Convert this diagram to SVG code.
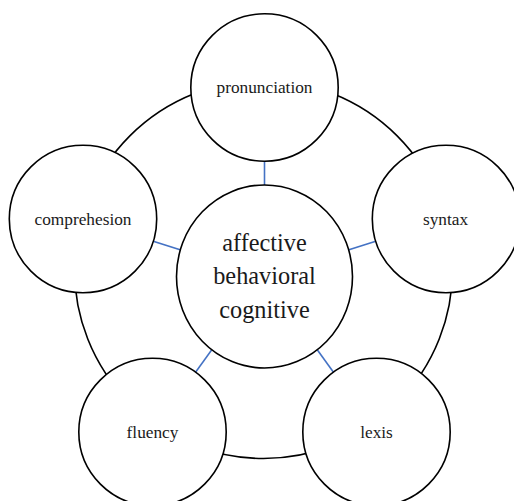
<svg xmlns="http://www.w3.org/2000/svg" width="514" height="501" viewBox="0 0 514 501">
  <defs>
    <style>
      .ring { fill: none; stroke: #000; stroke-width: 1.6; }
      .spoke { stroke: #4472C4; stroke-width: 1.6; fill: none; }
      .node { fill: #fff; stroke: #000; stroke-width: 1.6; }
      .label { font-family: "Liberation Serif", "Times New Roman", serif; font-size: 17.3px; fill: #1a1a1a; text-anchor: middle; }
      .core { font-family: "Liberation Serif", "Times New Roman", serif; font-size: 24.3px; fill: #1a1a1a; text-anchor: middle; }
    </style>
  </defs>
  <rect width="514" height="501" fill="#fff"/>

  <!-- connectors: outer ring and hub spokes -->
  <g id="connectors">
    <circle class="ring" cx="263.5" cy="269.5" r="189"/>
    <line class="spoke" x1="264.5" y1="276.5" x2="264.5" y2="87.5"/>
    <line class="spoke" x1="264.5" y1="276.5" x2="83" y2="219"/>
    <line class="spoke" x1="264.5" y1="276.5" x2="446" y2="219"/>
    <line class="spoke" x1="264.5" y1="276.5" x2="152.5" y2="432"/>
    <line class="spoke" x1="264.5" y1="276.5" x2="376.5" y2="432"/>
  </g>

  <g id="node-center">
    <ellipse class="node" cx="264.5" cy="276.5" rx="88" ry="91.5"/>
    <text class="core" x="264.5" y="250.5">affective</text>
    <text class="core" x="264.5" y="284">behavioral</text>
    <text class="core" x="264.5" y="317.5">cognitive</text>
  </g>

  <g id="node-pronunciation">
    <circle class="node" cx="264.5" cy="87.5" r="73.7"/>
    <text class="label" x="264.5" y="93">pronunciation</text>
  </g>

  <g id="node-comprehension">
    <circle class="node" cx="83" cy="219" r="73.7"/>
    <text class="label" x="83" y="224.5">comprehesion</text>
  </g>

  <g id="node-syntax">
    <circle class="node" cx="446" cy="219" r="73.7"/>
    <text class="label" x="445.5" y="224.5">syntax</text>
  </g>

  <g id="node-fluency">
    <circle class="node" cx="152.5" cy="432" r="73.7"/>
    <text class="label" x="152.5" y="437.5">fluency</text>
  </g>

  <g id="node-lexis">
    <circle class="node" cx="376.5" cy="432" r="73.7"/>
    <text class="label" x="376.5" y="437.5">lexis</text>
  </g>
</svg>
